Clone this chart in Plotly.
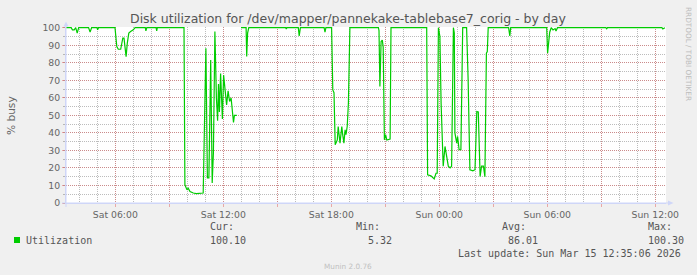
import plotly.graph_objects as go

# ---------------- data ----------------
sat_times = ["03:16","03:33","03:37","03:43","03:48","03:53","03:58","04:31","04:36","04:41",
             "04:59","05:01","05:04","05:59","06:05","06:10","06:18","06:25","06:29","06:36",
             "06:40","06:45","06:51","07:00","07:06","07:40","07:42","07:45","08:16","08:18",
             "08:20","09:49","09:52","09:59","10:03","10:09","10:20","10:30","10:53","10:57",
             "11:02","11:07","11:12","11:18","11:23","11:27","11:32","11:37","11:41","11:44",
             "11:47","11:51","11:54","11:57","12:01","12:06","12:11","12:16","12:21","12:26",
             "12:31","12:34","12:37","12:45","12:50","12:59","13:16","13:18","13:21","13:25",
             "15:28","15:30","15:32","16:10","16:13","16:17","17:36","17:39","17:42","18:01",
             "18:05","18:09","18:13","18:20","18:23","18:29","18:35","18:38","18:42","18:46",
             "18:49","18:53","18:57","19:02","20:37","20:39","20:42","20:46","20:50","20:53",
             "20:57","21:01","21:05","21:16","21:19","23:18","23:21","23:32","23:43","23:49",
             "23:53","23:57"]
sat_values = [100.1,100.1,98.9,98.9,100.1,97.0,100.1,100.1,97.6,100.1,
              100.1,98.9,100.1,100.1,89.3,87.8,87.8,94.1,94.1,83.6,
              91.3,97.0,97.9,98.9,100.1,100.1,98.3,100.1,100.1,98.3,
              100.1,100.1,10.4,7.5,8.5,6.6,5.7,5.32,5.7,37.1,
              88.4,14.3,14.3,81.7,11.4,28.5,97.9,60.0,47.0,68.0,
              52.0,74.0,55.0,48.0,73.0,62.0,56.0,64.0,58.0,60.0,
              53.0,46.0,50.0,50.0,None,100.1,100.1,83.6,97.0,100.1,
              100.1,99.3,100.1,100.1,95.4,100.1,100.1,97.6,100.1,100.1,
              64.6,63.0,33.2,36.0,43.7,34.2,43.7,39.0,34.2,41.8,
              39.0,43.7,57.0,100.1,100.1,98.5,66.5,92.2,93.0,89.0,
              36.1,39.0,36.0,36.5,100.1,100.1,16.1,15.5,13.7,17.0,
              17.0,100.1]

sun_times = ["00:02","00:06","00:13","00:19","00:26","00:30","00:36","00:41","00:47","00:50",
             "00:52","00:58","01:01","01:06","01:12","01:18","01:31","01:36","01:42","01:52",
             "01:59","02:05","02:10","02:16","02:21","02:27","02:32","02:37","02:40","02:43",
             "03:51","03:55","03:58","05:58","06:01","06:04","06:08","06:13","06:19","06:26",
             "06:29","06:34","09:15","09:18","09:21","12:22","12:25","12:32"]
sun_values = [95.0,57.0,21.0,32.3,24.0,21.0,20.0,21.0,100.1,97.0,
              40.0,34.2,38.0,30.4,30.4,100.1,100.1,71.0,19.0,18.4,
              19.0,52.2,52.0,15.2,21.0,21.0,15.0,85.6,86.5,100.1,
              100.1,95.4,100.1,100.1,85.6,91.3,97.5,100.1,98.8,99.6,
              98.2,100.1,100.1,99.5,100.3,100.1,99.4,100.1]

x_tick_vals = ["2026-03-14 06:00","2026-03-14 09:00","2026-03-14 12:00","2026-03-14 15:00",
               "2026-03-14 18:00","2026-03-14 21:00","2026-03-15 00:00","2026-03-15 03:00",
               "2026-03-15 06:00","2026-03-15 09:00","2026-03-15 12:00"]
x_tick_text = ["Sat 06:00","","Sat 12:00","","Sat 18:00","","Sun 00:00","","Sun 06:00","","Sun 12:00"]
y_tick_vals = [0,10,20,30,40,50,60,70,80,90,100]

x_range = ["2026-03-14 03:15:40","2026-03-15 12:35:40"]

title_text = "Disk utilization for /dev/mapper/pannekake-tablebase7_corig - by day"
y_title = "% busy"
series_name = "Utilization"
stat_labels = ["Cur:", "Min:", "Avg:", "Max:"]
stat_values = ["100.10", "  5.32", " 86.01", "100.30"]
last_update = "Last update: Sun Mar 15 12:35:06 2026"
watermark = "Munin 2.0.76"
side_text = "RRDTOOL / TOBI OETIKER"

times = ["2026-03-14 " + t for t in sat_times] + ["2026-03-15 " + t for t in sun_times]
values = sat_values + sun_values

# ---------------- styling ----------------
W, H = 697, 275
L, R, T, B = 66, 666, 27, 203
GREEN = "#00CC00"
MGRID = "rgba(222,79,79,0.45)"
GRID = "rgba(143,143,143,0.6)"
AXIS = "#CFD6F8"
FONT_C = "#666666"

def pxx(x):
    return (x - L) / (R - L)

def pyy(y):
    return (B - y) / (B - T)

fig = go.Figure()
fig.add_trace(go.Scatter(x=times, y=values, mode="lines",
                         line=dict(color=GREEN, width=1.2),
                         connectgaps=False, hoverinfo="skip", name=series_name))

fig.update_layout(
    width=W, height=H,
    margin=dict(l=L, r=W - R, t=T, b=H - B, pad=0),
    paper_bgcolor="#F0F0F0", plot_bgcolor="#FFFFFF",
    showlegend=False,
    font=dict(family="DejaVu Sans", color=FONT_C, size=9.3),
    xaxis=dict(
        type="date", range=x_range, tickmode="array",
        tickvals=x_tick_vals, ticktext=x_tick_text,
        showgrid=True, gridcolor=MGRID, griddash="1px,1px", gridwidth=1,
        ticks="outside", ticklen=3, tickcolor=MGRID, tickwidth=1,
        showline=True, linecolor=AXIS, linewidth=1,
        zeroline=False, tickfont=dict(size=9.3, color=FONT_C),
        minor=dict(tickmode="linear", tick0="2026-03-14 00:00", dtick=3600000,
                   showgrid=True, gridcolor=GRID, griddash="1px,1px", gridwidth=1,
                   ticks=""),
        fixedrange=True,
    ),
    yaxis=dict(
        range=[0, 100.5], tickmode="array", tickvals=y_tick_vals,
        showgrid=True, gridcolor=MGRID, griddash="1px,1px", gridwidth=1,
        ticks="outside", ticklen=3, tickcolor=MGRID, tickwidth=1,
        showline=True, linecolor=AXIS, linewidth=1,
        zeroline=False, tickfont=dict(size=9.3, color=FONT_C),
        minor=dict(tickmode="linear", tick0=0, dtick=5,
                   showgrid=True, gridcolor=GRID, griddash="1px,1px", gridwidth=1,
                   ticks="outside", ticklen=2, tickcolor=GRID),
        fixedrange=True,
    ),
)

shapes = []
# axis overshoot lines
shapes.append(dict(type="line", xref="paper", yref="paper",
                   x0=pxx(62), x1=pxx(669), y0=0, y1=0,
                   line=dict(color=AXIS, width=1)))
shapes.append(dict(type="line", xref="paper", yref="paper",
                   x0=0, x1=0, y0=pyy(207), y1=pyy(25),
                   line=dict(color=AXIS, width=1)))
# arrows
shapes.append(dict(type="path", xref="paper", yref="paper",
                   path="M {} {} L {} {} L {} {} Z".format(pxx(668), pyy(200.5), pxx(673.5), pyy(203), pxx(668), pyy(205.5)),
                   fillcolor=AXIS, line=dict(color=AXIS, width=0)))
shapes.append(dict(type="path", xref="paper", yref="paper",
                   path="M {} {} L {} {} L {} {} Z".format(pxx(63.5), pyy(26.5), pxx(66), pyy(21.5), pxx(68.5), pyy(26.5)),
                   fillcolor=AXIS, line=dict(color=AXIS, width=0)))
# legend swatch
shapes.append(dict(type="rect", xref="paper", yref="paper",
                   x0=pxx(14), x1=pxx(20), y0=pyy(243), y1=pyy(237),
                   fillcolor=GREEN, line=dict(width=0)))
fig.update_layout(shapes=shapes)

ann = []
def add_text(text, x, y, xanchor="left", size=10, color="#555555", family="DejaVu Sans Mono", angle=0, yanchor="middle"):
    ann.append(dict(text=text, x=pxx(x), y=pyy(y), xref="paper", yref="paper",
                    xanchor=xanchor, yanchor=yanchor, showarrow=False, textangle=angle,
                    font=dict(size=size, color=color, family=family)))

# title
add_text(title_text, 348, 18, xanchor="center", size=12.5, color="#555555", family="DejaVu Sans")
# y title
add_text(y_title, 10.5, 115.5, xanchor="center", size=10.6, color=FONT_C, family="DejaVu Sans", angle=-90)
# side text
ann.append(dict(text=side_text, x=pxx(689), y=pyy(5), xref="paper", yref="paper",
                xanchor="center", yanchor="top", showarrow=False, textangle=90,
                font=dict(size=7.3, color="#BDBDBD", family="DejaVu Sans")))
# legend
add_text(series_name, 24, 240)
col_x = [208, 353.5, 499.7, 645.7]
for cx, lab, val in zip(col_x, stat_labels, stat_values):
    add_text(lab, cx, 227)
    add_text(val.replace(" ", "\u00a0"), cx, 240)
add_text(last_update, 683, 253, xanchor="right")
add_text(watermark, 348, 266, xanchor="center", size=7.3, color="#C0C0C0", family="DejaVu Sans")
fig.update_layout(annotations=ann)

fig.write_html("out.html", config={"displayModeBar": False, "staticPlot": True})
